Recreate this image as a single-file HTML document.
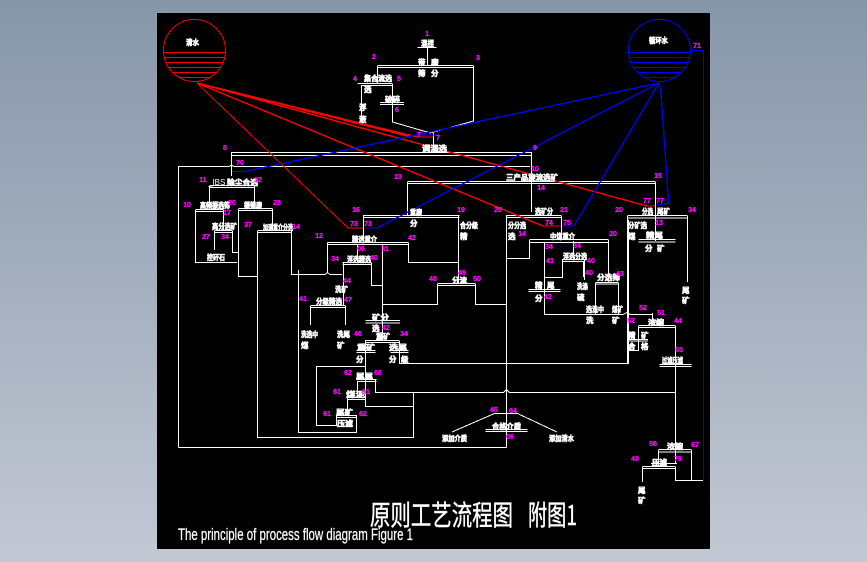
<!DOCTYPE html>
<html><head><meta charset="utf-8"><style>
html,body{margin:0;padding:0;width:867px;height:562px;overflow:hidden;background:linear-gradient(#8696a9,#c3c8d4)}
svg{position:absolute;left:0;top:0}
.w{fill:none;stroke:#fff;stroke-width:1}
.r{fill:none;stroke:#f00;stroke-width:1.4}
.b{fill:none;stroke:#00f;stroke-width:1.3}
.t text{fill:#fff;font:700 7.5px "Noto Sans CJK SC","Liberation Sans",sans-serif;stroke:#fff;stroke-width:.6}
.m text{fill:#f0f;font:700 7px "Liberation Sans",sans-serif;text-anchor:middle;stroke:#f0f;stroke-width:.3}
</style></head><body>
<svg width="867" height="562" viewBox="0 0 867 562" shape-rendering="crispEdges">
<defs>
<clipPath id="c1"><circle cx="194.5" cy="50.5" r="31"/></clipPath>
<clipPath id="c2"><circle cx="659.5" cy="50.5" r="31"/></clipPath>
</defs>
<rect x="157" y="13" width="553" height="536" fill="#000"/>

<!-- tanks -->
<circle cx="194.5" cy="50.5" r="31" fill="none" stroke="#f00"/>
<path fill="none" stroke="#f00" clip-path="url(#c1)" d="M160 52.500H230M160 57.500H230M160 62.500H230M160 67.500H230M160 72.500H230M160 77.500H230"/>
<circle cx="659.5" cy="50.5" r="31" fill="none" stroke="#00f"/>
<path fill="none" stroke="#00f" clip-path="url(#c2)" d="M625 52.500H695M625 57.500H695M625 62.500H695M625 67.500H695M625 72.500H695M625 77.500H695"/>

<!-- white flow lines -->
<g class="w">
<path d="M417.500 47.500H436.500M427.500 48V66"/>
<path d="M377.500 65.500H473.500M377.500 67.500H473.500M377.500 66V83M473.500 66V121L430 133"/>
<path d="M357.500 83.500H392.500M361 85.500H392.500M361.500 85V123M392.500 84V122L430.500 133"/>
<path d="M380 102.500H404M380 104.500H404"/>
<path d="M433.500 133V152"/>
<path d="M231.500 152.500H531.500M231.500 155.500H531.500M531.500 152V212M231.500 152V176"/>
<path d="M178.500 447.500V166.500H229L231.500 165L234 166.500H530"/>
<path d="M178.500 447.500H506.500"/>
<path d="M209.500 185.500H254.500M209.500 187.500H254.500M209.500 186V208M254.500 186V208"/>
<path d="M195.500 209.500H223.500M195.500 211.500H223.500M195.500 210V262.500H237M223.500 210V230"/>
<path d="M214.500 230.500H232.500M214.500 232.500H232.500M214.500 231V250M232.500 231V252.500H238"/>
<path d="M238.500 208.500H272.500M238.500 210.500H272.500M238.500 209V276.500H257M272.500 209V230"/>
<path d="M257.500 230.500H291.500M257.500 232.500H291.500M257.500 231V437.500H413.500V392.500H375.500V380M291.500 231V274.500H325L327.500 272.500L330 274.500H342"/>
<path d="M327.500 242.500V273M327.500 242.500H408.500M327.500 244.500H408.500M408.500 243V262.500H458.500"/>
<path d="M363.500 215.500H459.500M363.500 217.500H459.500M363.500 215V243M458.500 216V283"/>
<path d="M407.500 182V215M407.500 181.500H655.500M407.500 183.500H655.500M655.500 182V241"/>
<path d="M437.500 283.500H475.500M437.500 285.500H475.500M437.500 284V304.500H382.500M475.500 284V304.500H506.500"/>
<path d="M382.500 244V340M357.500 244V263"/>
<path d="M342.500 262.500H371.500M342.500 264.500H371.500M343.500 263V306M371.500 263V285.500H382.500"/>
<path d="M310.500 305.500H345.500M310.500 307.500H345.500M310.500 306V325M345.500 306V325"/>
<path d="M298.500 270V432.500H356.500V415M336.500 415V425.500H316.500V366.500H365.500"/>
<path d="M365.500 340V406.500H413.500"/>
<path d="M365.500 340.500H399.500M365.500 342.500H399.500M399.500 341V363.500H628.500V220"/>
<path d="M365.500 320.500H400M365.500 323H400"/>
<path d="M356.500 350.500H375.500M356.500 352.500H375.500M390.500 350.500H408.500M390.500 352.500H408.500"/>
<path d="M357.500 379.500H376.500M357.500 381.500H376.500M347.500 397.500H365.500M347.500 399.500H365.500M347.500 398V415M336.500 415.500H356.500M336.500 417.500H356.500M357.500 381V397"/>
<path d="M375.500 392.500H503.500L506.500 389.500L509.500 392.500H675.500"/>
<path d="M506.500 215V447.500"/>
<path d="M506.500 215.500H561.500M506.500 217.500H561.500M561.500 216V240"/>
<path d="M506.500 258.500H529.500V240M529.500 239.500H608.500M529.500 242.500H608.500M608.500 240V282"/>
<path d="M544.500 242V314.500H623L627 312.500L630 314.500H653M562.500 259V277.500H544.500M573.500 241V259"/>
<path d="M562.500 259.500H584.500M562.500 261.500H584.500M584.500 260V280M583.500 261V277"/>
<path d="M595.500 282.500H618.500M595.500 284H618.500M595.500 283V314M618.500 283V314"/>
<path d="M528.500 289.500H560.500M528.500 291.500H560.500"/>
<path d="M627.500 215.500H687.500M627.500 218H687.500M627.500 216V363M687.500 216V282"/>
<path d="M638.500 239.500H675.500M638.500 242H675.500"/>
<path d="M652.500 313V325M638.500 325.500H675.500M638.500 327.500H675.500M638.500 326V350.500H628M628.500 339.500H648M628.500 341H648"/>
<path d="M675.500 326V463M659.500 364.500H691.500M659.500 366.500H691.500"/>
<path d="M658.500 449.500H691.500M658.500 452H691.500M658.500 450V463M691.500 450V480.500H675.500V467"/>
<path d="M651 463.500H677M642.500 466.500H675.500M642.500 468.500H675.500M642.500 467V482"/>
<path d="M485.500 429.500H527.500M485.500 431.500H527.500M494.500 413.500H518.500M452 432L494.500 413.500M518.500 414L557 432M506.500 413V429"/>
<path d="M675.500 480.500H703"/>
</g>

<!-- red -->
<g class="r">
<path d="M197 83L417 137H433"/>
<path d="M197 83L411 137"/>
<path d="M197 83L647 206H655"/>
<path d="M197 83L543 226H561"/>
<path stroke-width="1" d="M197 83L348 228H363"/>
</g>
<!-- blue -->
<g class="b">
<path d="M232 171.500H245L430 132L659 83"/>
<path d="M417 135H440"/>
<path d="M365 228H377L659 83"/>
<path d="M562 226H574L659 83"/>
<path d="M659 83L661 93L668 193L669 203L657 205"/>
<path stroke-width="1" d="M691 50.500H703.500V480"/>
</g>

<!-- white labels -->
<g class="t">
<text x="186" y="45" textLength="13" lengthAdjust="spacingAndGlyphs">清水</text>
<text x="649" y="43" textLength="19" lengthAdjust="spacingAndGlyphs">循环水</text>
<text x="421" y="46" textLength="13" lengthAdjust="spacingAndGlyphs">混捏</text>
<text x="418" y="65">带</text><text x="431" y="65">磨</text>
<text x="418" y="76">筛</text><text x="431" y="76">分</text>
<text x="364" y="81" textLength="28" lengthAdjust="spacingAndGlyphs">集合流选</text>
<text x="364" y="92">选</text>
<text x="359" y="110">浮</text><text x="359" y="122">液</text>
<text x="385" y="102" textLength="15" lengthAdjust="spacingAndGlyphs">破碎</text>
<text x="422" y="151" textLength="25" lengthAdjust="spacingAndGlyphs">调湿选</text>
<text x="208" y="185" style="font:400 8px 'Liberation Sans',sans-serif;stroke-width:0">_IBS</text>
<text x="227" y="185" textLength="31" lengthAdjust="spacingAndGlyphs">除尘合选</text>
<text x="200" y="208" textLength="30" lengthAdjust="spacingAndGlyphs">高频振选筛</text>
<text x="244" y="208" textLength="18" lengthAdjust="spacingAndGlyphs">振筛磨</text>
<text x="212" y="229" textLength="25" lengthAdjust="spacingAndGlyphs">高分选矿</text>
<text x="207" y="260" textLength="18" lengthAdjust="spacingAndGlyphs">控矸石</text>
<text x="263" y="230" textLength="30" lengthAdjust="spacingAndGlyphs">加速重介分选</text>
<text x="352" y="242" textLength="25" lengthAdjust="spacingAndGlyphs">精选重介</text>
<text x="410" y="215" textLength="12" lengthAdjust="spacingAndGlyphs">重磨</text>
<text x="410" y="226">分</text>
<text x="347" y="262" textLength="24" lengthAdjust="spacingAndGlyphs">浮选精选</text>
<text x="506" y="180" textLength="52" lengthAdjust="spacingAndGlyphs">三产品旋流选矿</text>
<text x="460" y="228" textLength="18" lengthAdjust="spacingAndGlyphs">合分级</text>
<text x="460" y="239">精</text>
<text x="452" y="283" textLength="15" lengthAdjust="spacingAndGlyphs">分流</text>
<text x="508" y="228" textLength="18" lengthAdjust="spacingAndGlyphs">分分选</text>
<text x="508" y="239">选</text>
<text x="535" y="214" textLength="18" lengthAdjust="spacingAndGlyphs">选矿分</text>
<text x="550" y="239" textLength="25" lengthAdjust="spacingAndGlyphs">中煤重介</text>
<text x="563" y="259" textLength="24" lengthAdjust="spacingAndGlyphs">浮选分选</text>
<text x="535" y="288">精</text><text x="547" y="288">尾</text>
<text x="535" y="301">分</text>
<text x="577" y="289" textLength="11" lengthAdjust="spacingAndGlyphs">洗涤</text>
<text x="577" y="300">硫</text>
<text x="597" y="280" textLength="23" lengthAdjust="spacingAndGlyphs">分选筛</text>
<text x="586" y="312" textLength="18" lengthAdjust="spacingAndGlyphs">选洗中</text>
<text x="612" y="312" textLength="11" lengthAdjust="spacingAndGlyphs">煤矿</text>
<text x="586" y="323">洗</text><text x="612" y="323">矿</text>
<text x="642" y="214" textLength="11" lengthAdjust="spacingAndGlyphs">分选</text>
<text x="657" y="214" textLength="13" lengthAdjust="spacingAndGlyphs">尾矿</text>
<text x="628" y="228" textLength="19" lengthAdjust="spacingAndGlyphs">分矿选</text>
<text x="628" y="239">煤</text>
<text x="646" y="238" textLength="17" lengthAdjust="spacingAndGlyphs">精尾</text>
<text x="645" y="251">分</text><text x="657" y="251">矿</text>
<text x="682" y="293">尾</text><text x="682" y="303">矿</text>
<text x="648" y="325" textLength="16" lengthAdjust="spacingAndGlyphs">浓缩</text>
<text x="628" y="338">精</text><text x="641" y="338">矿</text>
<text x="628" y="349">合</text><text x="641" y="349">格</text>
<text x="662" y="363" textLength="21" lengthAdjust="spacingAndGlyphs">过滤压滤</text>
<text x="667" y="449" textLength="16" lengthAdjust="spacingAndGlyphs">浓缩</text>
<text x="652" y="465" textLength="15" lengthAdjust="spacingAndGlyphs">压滤</text>
<text x="638" y="493">尾</text><text x="638" y="503">矿</text>
<text x="335" y="292" textLength="13" lengthAdjust="spacingAndGlyphs">洗矿</text>
<text x="316" y="304" textLength="26" lengthAdjust="spacingAndGlyphs">分级精选</text>
<text x="301" y="337" textLength="17" lengthAdjust="spacingAndGlyphs">洗选中</text>
<text x="301" y="348">煤</text>
<text x="337" y="337" textLength="13" lengthAdjust="spacingAndGlyphs">洗尾</text>
<text x="337" y="348">矿</text>
<text x="372" y="320" textLength="17" lengthAdjust="spacingAndGlyphs">矿分</text>
<text x="372" y="331">选</text>
<text x="376" y="339" textLength="14" lengthAdjust="spacingAndGlyphs">重矿</text>
<text x="357" y="350" textLength="18" lengthAdjust="spacingAndGlyphs">重矿</text>
<text x="356" y="362">分</text>
<text x="389" y="350" textLength="18" lengthAdjust="spacingAndGlyphs">选尾</text>
<text x="389" y="362">分</text><text x="401" y="362">级</text>
<text x="356" y="379" textLength="17" lengthAdjust="spacingAndGlyphs">尾尾</text>
<text x="346" y="397" textLength="19" lengthAdjust="spacingAndGlyphs">煤泥</text>
<text x="336" y="415" textLength="17" lengthAdjust="spacingAndGlyphs">尾矿</text>
<text x="337" y="426" textLength="16" lengthAdjust="spacingAndGlyphs">压滤</text>
<text x="492" y="429" textLength="29" lengthAdjust="spacingAndGlyphs">合格介质</text>
<text x="442" y="441" textLength="25" lengthAdjust="spacingAndGlyphs">添加介质</text>
<text x="549" y="441" textLength="25" lengthAdjust="spacingAndGlyphs">添加清水</text>
</g>

<!-- magenta numbers -->
<g class="m">
<text x="427" y="36">1</text><text x="374" y="59">2</text><text x="478" y="60">3</text>
<text x="355" y="81">4</text><text x="399" y="81">5</text><text x="397" y="112">6</text>
<text x="419" y="137">T</text><text x="438" y="140">7</text><text x="225" y="150">8</text>
<text x="535" y="150">9</text><text x="240" y="165">70</text><text x="535" y="171">10</text>
<text x="203" y="182">11</text><text x="258" y="182">12</text><text x="398" y="179">13</text>
<text x="541" y="190">14</text><text x="658" y="178">15</text><text x="697" y="48">71</text>
<text x="187" y="207">10</text><text x="232" y="205">20</text><text x="277" y="205">28</text>
<text x="227" y="215">17</text><text x="206" y="239">27</text><text x="225" y="239">34</text>
<text x="248" y="227">37</text><text x="296" y="229">14</text><text x="319" y="238">12</text>
<text x="335" y="261">34</text><text x="356" y="212">16</text><text x="354" y="226">73</text>
<text x="368" y="226">73</text><text x="461" y="212">19</text><text x="498" y="212">20</text>
<text x="412" y="240">42</text><text x="361" y="251">06</text><text x="385" y="251">31</text>
<text x="374" y="260">40</text><text x="347" y="283">44</text><text x="433" y="281">48</text>
<text x="462" y="275">49</text><text x="477" y="281">50</text>
<text x="564" y="212">21</text><text x="549" y="225">74</text><text x="567" y="225">75</text>
<text x="522" y="236">14</text><text x="613" y="236">20</text><text x="549" y="249">34</text>
<text x="577" y="248">34</text><text x="550" y="263">41</text><text x="591" y="263">40</text>
<text x="589" y="275">40</text><text x="620" y="276">43</text><text x="619" y="212">20</text>
<text x="647" y="203">77</text><text x="660" y="203">77</text><text x="692" y="212">34</text>
<text x="659" y="225">13</text><text x="303" y="301">41</text><text x="348" y="302">47</text>
<text x="358" y="336">46</text><text x="404" y="336">34</text><text x="386" y="330">42</text>
<text x="348" y="375">62</text><text x="378" y="375">60</text><text x="337" y="394">61</text>
<text x="366" y="394">61</text><text x="327" y="416">61</text><text x="363" y="416">62</text>
<text x="494" y="412">45</text><text x="513" y="413">64</text><text x="510" y="439">06</text>
<text x="548" y="299">42</text>
<text x="643" y="310">52</text><text x="661" y="315">51</text><text x="631" y="323">52</text>
<text x="678" y="323">44</text><text x="679" y="352">53</text><text x="653" y="446">58</text>
<text x="695" y="447">67</text><text x="635" y="461">49</text><text x="678" y="461">79</text>
</g>

<!-- title -->
<g fill="#fff" stroke="#fff" stroke-width=".35" font-family="'Noto Sans CJK SC','Liberation Sans',sans-serif" font-size="24">
<text transform="translate(370,525) scale(1,1.15)" x="0" y="0" textLength="143" lengthAdjust="spacingAndGlyphs">原则工艺流程图</text>
<text transform="translate(528,525) scale(1,1.15)" x="0" y="0" textLength="49" lengthAdjust="spacingAndGlyphs">附图1</text>
</g>
<text x="178" y="540" fill="#fff" stroke="#fff" stroke-width=".25" font-family="'Liberation Sans',sans-serif" font-size="16.5" textLength="235" lengthAdjust="spacingAndGlyphs">The principle of process flow diagram Figure 1</text>
</svg>
</body></html>
